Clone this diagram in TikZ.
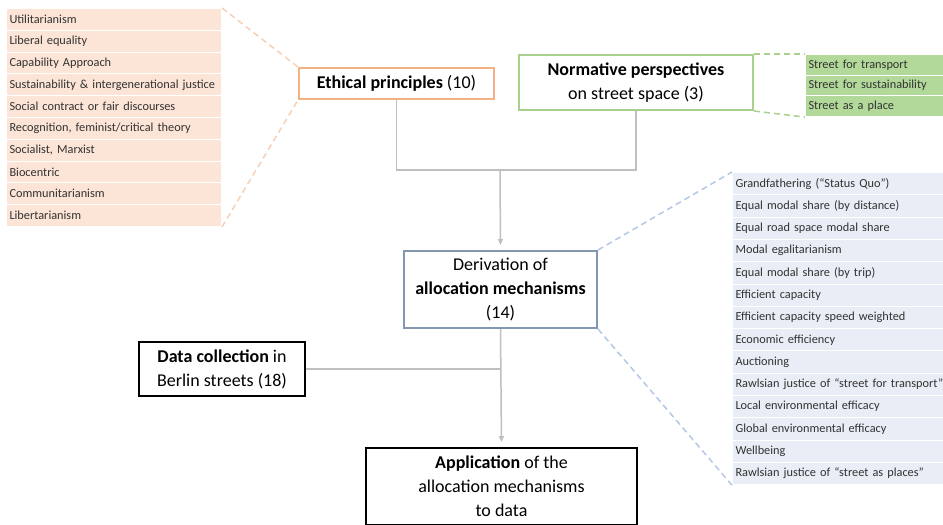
\documentclass[tikz,border=0pt]{standalone}
\usepackage{fontspec}
\setmainfont{Carlito}
\usetikzlibrary{arrows.meta,positioning,calc}
\definecolor{ethorange}{RGB}{244,177,131}
\definecolor{ethfill}{RGB}{252,228,214}
\definecolor{normgreen}{RGB}{169,209,142}
\definecolor{normfill}{RGB}{178,217,154}
\definecolor{mechblue}{RGB}{132,151,176}
\definecolor{mechdash}{RGB}{180,199,231}
\definecolor{mechfill}{RGB}{233,237,246}
\definecolor{linkgray}{RGB}{191,191,191}
\definecolor{listtext}{RGB}{50,50,50}
\tikzset{
  listrow/.style={draw=white,line width=1pt,fill=#1,anchor=north west,inner xsep=3pt,inner ysep=0pt,align=left,text=listtext,font=\fontsize{12.3}{14}\selectfont},
  mainbox/.style={draw=#1,line width=2pt,fill=white,align=center,font=\fontsize{18}{24}\selectfont},
  fan/.style={draw=#1,dash pattern=on 6pt off 4pt,line width=1.5pt},
}
\begin{document}
\begin{tikzpicture}[
    x=1pt,y=1pt,
    link/.style={draw=linkgray,line width=1.5pt},
    arrow/.style={link,-{Triangle[length=6pt,width=5pt]},shorten >=5pt},
  ]
    \useasboundingbox (0,0) rectangle (943,-525);
    % Ethical principles list
    \foreach \txt [count=\i] in {Utilitarianism,Liberal equality,Capability Approach,
        Sustainability \& intergenerational justice,Social contract or fair discourses,
        {Recognition, feminist/critical theory},{Socialist, Marxist},Biocentric,
        Communitarianism,Libertarianism}
      \node[listrow=ethfill,text width=209pt,minimum height=21.8pt] (eth\i) at (6,{-8-21.8*(\i-1)}) {\mbox{\txt}};
    % Street perspectives list
    \foreach \txt [count=\i] in {Street for transport,Street for sustainability,Street as a place}
      \node[listrow=normfill,text width=132pt,minimum height=20.7pt] (street\i) at (805,{-54-20.7*(\i-1)}) {\mbox{\txt}};
    % Allocation mechanisms list
    \foreach \txt [count=\i] in {Grandfathering (“Status Quo”),Equal modal share (by distance),
        Equal road space modal share,Modal egalitarianism,Equal modal share (by trip),
        Efficient capacity,Efficient capacity speed weighted,Economic efficiency,Auctioning,
        Rawlsian justice of “street for transport”,Local environmental efficacy,
        Global environmental efficacy,Wellbeing,Rawlsian justice of “street as places”}
      \node[listrow=mechfill,text width=205pt,minimum height=22.3pt] (mech\i) at (732,{-172-22.3*(\i-1)}) {\mbox{\txt}};
    % Main boxes
    \node[mainbox=ethorange,minimum width=195pt,minimum height=31pt] (ethical) at (396.5,-83.5)
      {\textbf{Ethical principles} (10)};
    \node[mainbox=normgreen,minimum width=234pt,minimum height=55pt] (normative) at (636,-82.5)
      {\textbf{Normative perspectives}\\on street space (3)};
    \node[mainbox=mechblue,minimum width=193pt,minimum height=77pt] (derivation) at (500.5,-289.5)
      {Derivation of\\\textbf{allocation mechanisms}\\(14)};
    \node[mainbox=black,line width=1.5pt,minimum width=166pt,minimum height=54pt] (data) at (222,-369)
      {\textbf{Data collection} in\\Berlin streets (18)};
    \node[mainbox=black,minimum width=271pt,minimum height=77pt] (application) at (501.5,-486.5)
      {\textbf{Application} of the\\allocation mechanisms\\to data};
    % Fans to the lists
    \draw[fan=ethorange!60] (eth1.north east) -- (ethical.north west);
    \draw[fan=ethorange!60] (eth10.south east) -- (ethical.south west);
    \draw[fan=normgreen] (normative.north east) -- (street1.north west);
    \draw[fan=normgreen] (normative.south east) -- (street3.south west);
    \draw[fan=mechdash] (derivation.north east) -- (mech1.north west);
    \draw[fan=mechdash] (derivation.south east) -- (mech14.south west);
    % Connectors
    \coordinate (join) at (500,-170);
    \draw[link] (ethical.south) |- (join) -| (normative.south);
    \draw[arrow] (join) -- (derivation.north);
    \draw[arrow] (derivation.south) -- (application.north);
    \coordinate (merge) at (derivation.south |- data.east);
    \draw[link] (data.east) -- (merge);
  \end{tikzpicture}
\end{document}
